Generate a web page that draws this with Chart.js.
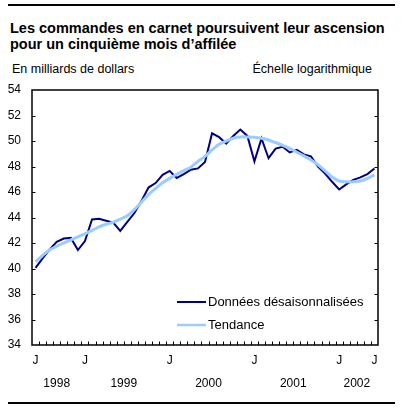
<!DOCTYPE html>
<html>
<head>
<meta charset="utf-8">
<script src="https://cdn.jsdelivr.net/npm/chart.js@4.4.1/dist/chart.umd.min.js"></script>
<style>
  body { margin: 0; background: #fff; }
  #wrap { position: relative; width: 403px; height: 410px; font-family: "Liberation Sans", Arial, sans-serif; color: #000; }
  .rule { position: absolute; left: 8px; width: 387px; height: 2px; background: #000; }
  #title { position: absolute; left: 10px; top: 20px; font-weight: bold; font-size: 14.5px; line-height: 16px; white-space: nowrap; }
  #unit { position: absolute; left: 12px; top: 62px; font-size: 12.5px; line-height: 14px; white-space: nowrap; }
  #scale { position: absolute; right: 31px; top: 62px; font-size: 12.5px; line-height: 14px; white-space: nowrap; }
  canvas { position: absolute; left: 0; top: 0; }
</style>
</head>
<body>
<div id="wrap">
  <div class="rule" style="top:4px"></div>
  <div id="title">Les commandes en carnet poursuivent leur ascension<br>pour un cinquième mois d’affilée</div>
  <div id="unit">En milliards de dollars</div>
  <div id="scale">Échelle logarithmique</div>
  <canvas id="c" width="403" height="410"></canvas>
  <div class="rule" style="top:402px"></div>
</div>
<script>
// ---- Data ----
const months = [
  '1998-06','1998-07','1998-08','1998-09','1998-10','1998-11','1998-12',
  '1999-01','1999-02','1999-03','1999-04','1999-05','1999-06','1999-07','1999-08','1999-09','1999-10','1999-11','1999-12',
  '2000-01','2000-02','2000-03','2000-04','2000-05','2000-06','2000-07','2000-08','2000-09','2000-10','2000-11','2000-12',
  '2001-01','2001-02','2001-03','2001-04','2001-05','2001-06','2001-07','2001-08','2001-09','2001-10','2001-11','2001-12',
  '2002-01','2002-02','2002-03','2002-04','2002-05','2002-06'
];
const seasonallyAdjusted = [
  40.05, 40.8, 41.5, 42.1, 42.35, 42.4, 41.45,
  42.15, 43.85, 43.9, 43.75, 43.6, 42.95, 43.65, 44.35, 45.3, 46.35, 46.7, 47.35,
  47.65, 47.1, 47.4, 47.75, 47.85, 48.35, 50.6, 50.3, 49.8, 50.4, 50.9, 50.4,
  48.4, 50.2, 48.65, 49.4, 49.55, 49.1, 49.3, 48.95, 48.8, 48.0, 47.45, 46.8,
  46.2, 46.6, 46.95, 47.15, 47.4, 47.85
];
const trend = [
  40.53, 41.02, 41.47, 41.74, 42.0, 42.24, 42.48,
  42.72, 42.99, 43.26, 43.47, 43.63, 43.87, 44.14, 44.62, 45.2, 45.79, 46.27, 46.72,
  47.07, 47.39, 47.68, 47.95, 48.4, 48.8, 49.3, 49.74, 50.0, 50.22, 50.32, 50.32,
  50.3, 50.22, 50.08, 49.87, 49.66, 49.42, 49.12, 48.83, 48.51, 48.14, 47.66, 47.18,
  46.86, 46.8, 46.8, 46.86, 47.07, 47.34
];
const xTickLabels = { '1998-06': 'J', '1999-01': 'J', '2000-01': 'J', '2001-01': 'J', '2002-01': 'J', '2002-06': 'J' };
const years = ['1998', '1999', '2000', '2001', '2002'];
const seriesNames = ['Données désaisonnalisées', 'Tendance'];

const FONT = '"Liberation Sans", Arial, sans-serif';
const DARK = '#000080';
const LIGHT = '#99ccff';

function seg(ctx, x1, y1, x2, y2) { ctx.beginPath(); ctx.moveTo(x1, y1); ctx.lineTo(x2, y2); ctx.stroke(); }

const decor = {
  id: 'decor',
  afterDatasetsDraw(chart) {
    const { ctx, chartArea: a, scales: { x, y } } = chart;
    ctx.save();
    ctx.strokeStyle = '#000';
    ctx.lineWidth = 1.5;
    ctx.strokeRect(a.left, a.top, a.right - a.left, a.bottom - a.top);
    ctx.lineWidth = 1;
    y.ticks.forEach(t => {
      if (t.value <= y.min || t.value >= y.max) return;
      const py = Math.round(y.getPixelForValue(t.value)) + 0.5;
      seg(ctx, a.left, py, a.left + 3.5, py);
      seg(ctx, a.right - 3.5, py, a.right, py);
    });
    for (let i = 1; i < months.length; i++) {
      const px = Math.round((x.getPixelForValue(i - 1) + x.getPixelForValue(i)) / 2) + 0.5;
      seg(ctx, px, a.bottom - 3.5, px, a.bottom);
    }
    // year labels
    ctx.fillStyle = '#000';
    ctx.font = '12px ' + FONT;
    ctx.textAlign = 'center';
    ctx.textBaseline = 'middle';
    years.forEach(yr => {
      let first = -1, last = -1;
      months.forEach((m, i) => { if (m.startsWith(yr)) { if (first < 0) first = i; last = i; } });
      const cx = (x.getPixelForValue(first) + x.getPixelForValue(last)) / 2;
      ctx.fillText(yr, cx, 384);
    });
    // legend
    const items = [
      { label: seriesNames[0], color: DARK, w: 2, y: 302 },
      { label: seriesNames[1], color: LIGHT, w: 2.5, y: 325 }
    ];
    ctx.font = '13px ' + FONT;
    ctx.textAlign = 'left';
    items.forEach(it => {
      ctx.strokeStyle = it.color;
      ctx.lineWidth = it.w;
      seg(ctx, 177, it.y, 206, it.y);
      ctx.fillStyle = '#000';
      ctx.fillText(it.label, 208, it.y + 0.5);
    });
    ctx.restore();
  }
};

new Chart(document.getElementById('c'), {
  type: 'line',
  data: {
    labels: months,
    datasets: [
      { label: seriesNames[1], data: trend, borderColor: LIGHT, borderWidth: 3, pointRadius: 0, tension: 0.3, order: 0 },
      { label: seriesNames[0], data: seasonallyAdjusted, borderColor: DARK, borderWidth: 2, pointRadius: 0, tension: 0, order: 1 }
    ]
  },
  options: {
    responsive: false,
    devicePixelRatio: 1,
    animation: false,
    layout: { padding: { left: 0, right: 25, top: 90, bottom: 0 } },
    plugins: { legend: { display: false }, tooltip: { enabled: false }, title: { display: false } },
    scales: {
      x: {
        offset: true,
        grid: { display: false, drawTicks: false },
        border: { display: false },
        ticks: {
          autoSkip: false, maxRotation: 0, minRotation: 0, padding: 8, color: '#000',
          font: { size: 12, family: FONT },
          callback: (v, i) => xTickLabels[months[i]] || ''
        },
        afterFit: s => { s.height = 65; }
      },
      y: {
        min: 34, max: 54,
        grid: { display: false, drawTicks: false },
        border: { display: false },
        ticks: { stepSize: 2, padding: 11, color: '#000', font: { size: 12, family: FONT } },
        afterFit: s => { s.width = 32; }
      }
    }
  },
  plugins: [decor]
});
</script>
</body>
</html>
